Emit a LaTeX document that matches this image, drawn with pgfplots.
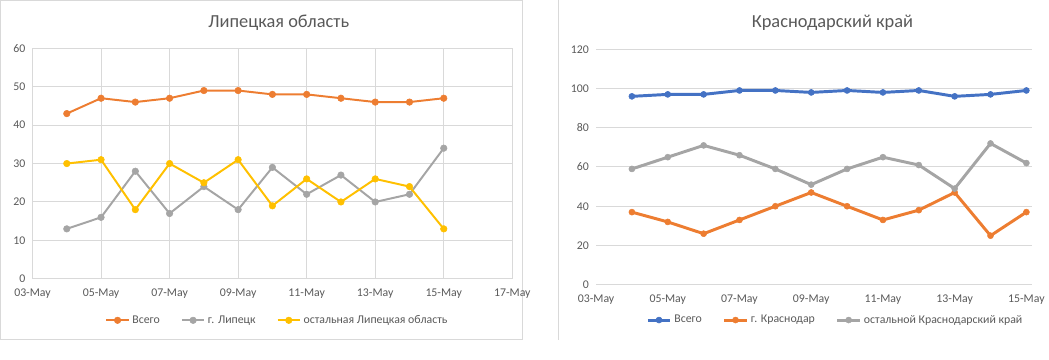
\documentclass[border=0pt]{standalone}
\usepackage{pgfplots}
\pgfplotsset{compat=1.18}
\usepackage{fontspec}
\setmainfont{Carlito}
\definecolor{xorange}{HTML}{ED7D31}
\definecolor{xgray}{HTML}{A5A5A5}
\definecolor{xyellow}{HTML}{FFC000}
\definecolor{xblue}{HTML}{4472C4}
\definecolor{tgray}{HTML}{595959}
\definecolor{ggray}{HTML}{D9D9D9}
\pgfplotsset{excel/.style={
  scale only axis,
  axis line style={draw=none},
  tick style={draw=none},
  ymajorgrids,
  major grid style={color=ggray, line width=0.75pt},
  ticklabel style={font=\fontsize{9}{10}\selectfont, text=tgray},
  xticklabel style={yshift=-4pt},
  yticklabel style={xshift=-2pt},
  /pgf/number format/assume math mode=true,
  xtick={3,5,...,17},
  xticklabels={03-May,05-May,07-May,09-May,11-May,13-May,15-May,17-May},
  legend columns=3,
  legend style={draw=none, fill=none, font=\fontsize{9}{10}\selectfont, text=tgray,
    /tikz/every even column/.append style={column sep=14pt}},
  every axis plot/.append style={mark=*, line join=round, mark options={line width=0.4pt}},
}}
\begin{document}
\begin{tikzpicture}
\begin{scope}[x=0.75pt,y=0.75pt]
\path[use as bounding box] (0,0) rectangle (1049,365);
\draw[ggray, line width=0.75pt] (0.5,20) rectangle (530,364.5);
\draw[ggray, line width=0.75pt] (567,20) -- (567,365);
\node[text=tgray, font=\fontsize{14}{16}\selectfont] at (283,342) {Липецкая область};
\node[text=tgray, font=\fontsize{14}{16}\selectfont] at (845,342) {Краснодарский край};
\end{scope}
\begin{axis}[excel, at={(24.75pt,61.5pt)}, anchor=south west,
  width=365.25pt, height=175.5pt,
  xmin=3, xmax=17, ymin=0, ymax=60, ytick={0,10,...,60},
  xmajorgrids,
  legend style={at={(0.511,-0.18)}, anchor=center},
  every axis plot/.append style={line width=1.5pt, mark size=2.5pt}]
\addplot[color=xorange] coordinates {(4,43)(5,47)(6,46)(7,47)(8,49)(9,49)(10,48)(11,48)(12,47)(13,46)(14,46)(15,47)};
\addlegendentry{Всего}
\addplot[color=xgray] coordinates {(4,13)(5,16)(6,28)(7,17)(8,24)(9,18)(10,29)(11,22)(12,27)(13,20)(14,22)(15,34)};
\addlegendentry{г. Липецк}
\addplot[color=xyellow] coordinates {(4,30)(5,31)(6,18)(7,30)(8,25)(9,31)(10,19)(11,26)(12,20)(13,26)(14,24)(15,13)};
\addlegendentry{остальная Липецкая область}
\end{axis}
\begin{axis}[excel, at={(453.75pt,57pt)}, anchor=south west,
  width=332.25pt, height=179.25pt,
  xmin=3, xmax=15.17, ymin=0, ymax=120, ytick={0,20,...,120},
  legend style={at={(0.549,-0.15)}, anchor=center},
  every axis plot/.append style={line width=2.25pt, mark size=2.3pt}]
\addplot[color=xblue] coordinates {(4,96)(5,97)(6,97)(7,99)(8,99)(9,98)(10,99)(11,98)(12,99)(13,96)(14,97)(15,99)};
\addlegendentry{Всего}
\addplot[color=xorange] coordinates {(4,37)(5,32)(6,26)(7,33)(8,40)(9,47)(10,40)(11,33)(12,38)(13,47)(14,25)(15,37)};
\addlegendentry{г. Краснодар}
\addplot[color=xgray] coordinates {(4,59)(5,65)(6,71)(7,66)(8,59)(9,51)(10,59)(11,65)(12,61)(13,49)(14,72)(15,62)};
\addlegendentry{остальной Краснодарский край}
\end{axis}
\end{tikzpicture}
\end{document}
